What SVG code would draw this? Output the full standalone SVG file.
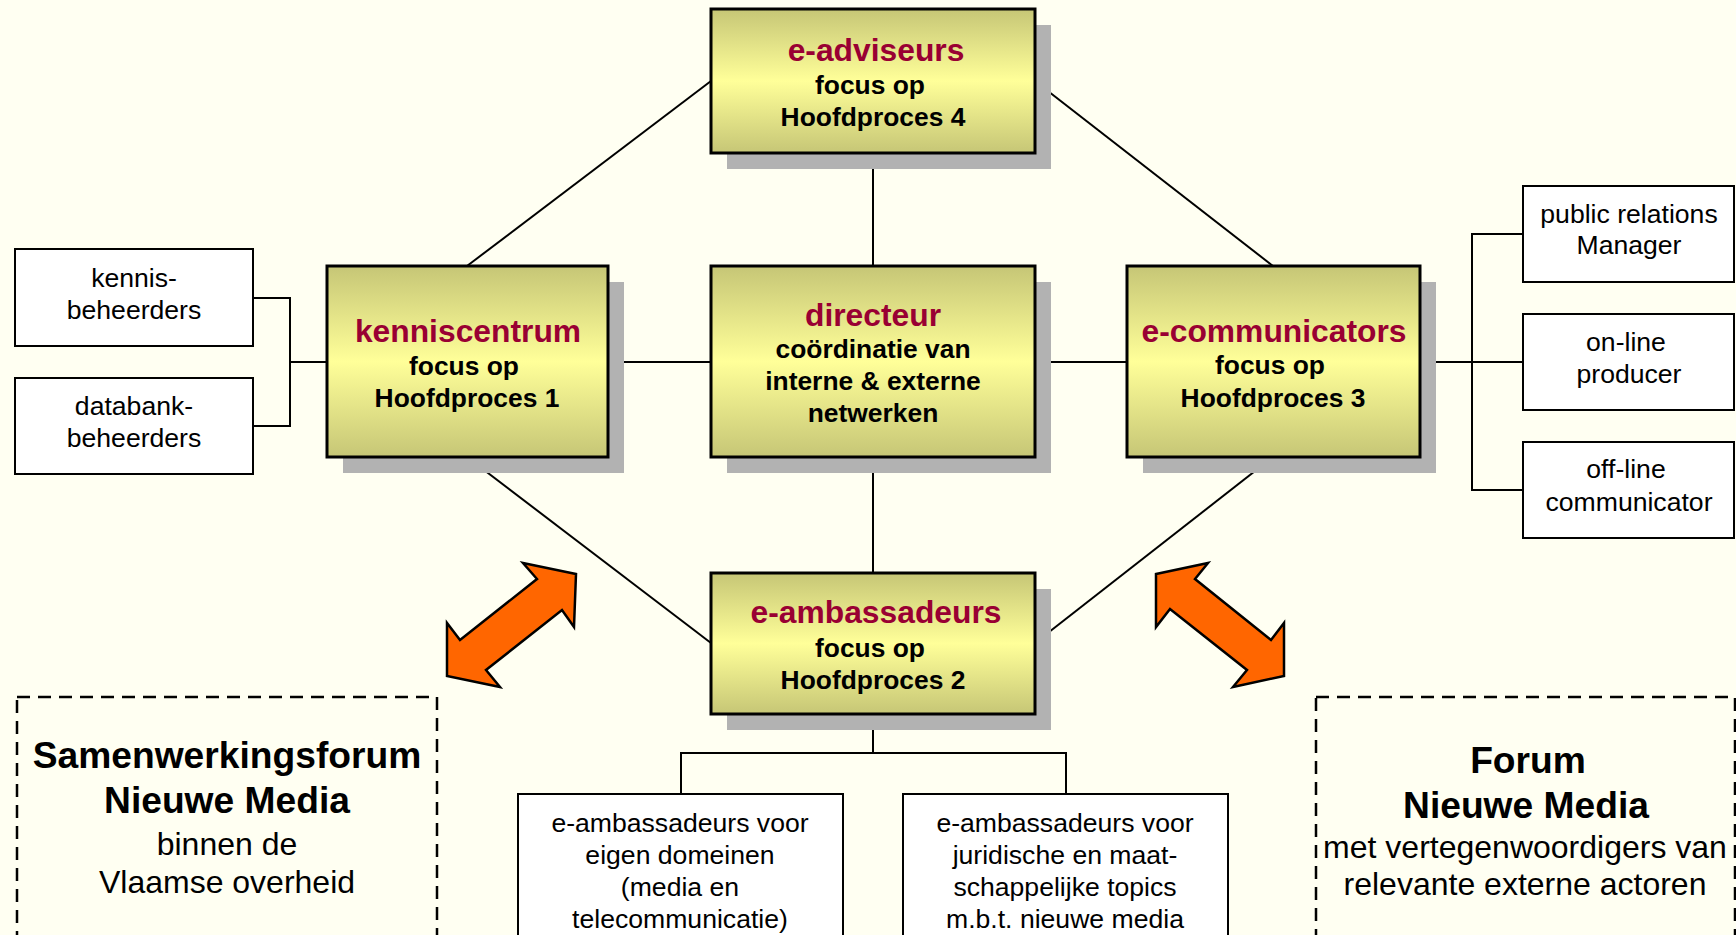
<svg xmlns="http://www.w3.org/2000/svg" width="1736" height="935" viewBox="0 0 1736 935">
<defs>
<linearGradient id="gold" x1="0" y1="0" x2="0" y2="1">
<stop offset="0" stop-color="#C6C676"/>
<stop offset="0.5" stop-color="#FFFF99"/>
<stop offset="1" stop-color="#C6C676"/>
</linearGradient>
<style>
.bg{fill:#FFFFF2}
.con{fill:none;stroke:#000;stroke-width:2}
.shadow{fill:#B2B2B2}
.main{fill:url(#gold);stroke:#000;stroke-width:3}
.small{fill:#fff;stroke:#000;stroke-width:2}
.dash{fill:none;stroke:#000;stroke-width:2.5;stroke-dasharray:13 8}
.arrow{fill:#FF6600;stroke:#000;stroke-width:2.5;stroke-linejoin:miter}
text{font-family:"Liberation Sans",Arial,sans-serif;text-anchor:middle;fill:#000}
.t{font-size:31.8px;font-weight:bold;fill:#990033}
.b{font-size:26.4px;font-weight:bold}
.r{font-size:26.6px}
.fb{font-size:37.2px;font-weight:bold}
.fr{font-size:32px}
</style>
</defs>
<rect class="bg" x="0" y="0" width="1736" height="935"/>
<g id="connectors">
<path class="con" d="M711,81 L467,266"/>
<path class="con" d="M1035,81 L1273,266"/>
<path class="con" d="M873,153 V266"/>
<path class="con" d="M608,362 H711"/>
<path class="con" d="M1035,362 H1127"/>
<path class="con" d="M873,457 V573"/>
<path class="con" d="M467,457 L711,643"/>
<path class="con" d="M1273,457 L1035,643"/>
<path class="con" d="M253,298 H290 V426 H253 M290,362 H327"/>
<path class="con" d="M1420,362 H1523 M1523,234 H1472 V490 H1523"/>
<path class="con" d="M873,714 V753 M681,795 V753 H1066 V795"/>
</g>
<g id="e-adviseurs">
<rect class="shadow" x="727" y="25" width="324" height="144"/>
<rect class="main" x="711" y="9" width="324" height="144"/>
<text class="t" x="876" y="61">e-adviseurs</text>
<text class="b" x="870" y="94">focus op</text>
<text class="b" x="873" y="126">Hoofdproces 4</text>
</g>
<g id="kenniscentrum">
<rect class="shadow" x="343" y="282" width="281" height="191"/>
<rect class="main" x="327" y="266" width="281" height="191"/>
<text class="t" x="468" y="342">kenniscentrum</text>
<text class="b" x="464" y="375">focus op</text>
<text class="b" x="467" y="407">Hoofdproces 1</text>
</g>
<g id="directeur">
<rect class="shadow" x="727" y="282" width="324" height="191"/>
<rect class="main" x="711" y="266" width="324" height="191"/>
<text class="t" x="873" y="326">directeur</text>
<text class="b" x="873" y="358">coördinatie van</text>
<text class="b" x="873" y="390">interne &amp; externe</text>
<text class="b" x="873" y="422">netwerken</text>
</g>
<g id="e-communicators">
<rect class="shadow" x="1143" y="282" width="293" height="191"/>
<rect class="main" x="1127" y="266" width="293" height="191"/>
<text class="t" x="1274" y="342">e-communicators</text>
<text class="b" x="1270" y="374">focus op</text>
<text class="b" x="1273" y="407">Hoofdproces 3</text>
</g>
<g id="e-ambassadeurs">
<rect class="shadow" x="727" y="589" width="324" height="141"/>
<rect class="main" x="711" y="573" width="324" height="141"/>
<text class="t" x="876" y="623">e-ambassadeurs</text>
<text class="b" x="870" y="657">focus op</text>
<text class="b" x="873" y="689">Hoofdproces 2</text>
</g>
<g id="kennisbeheerders">
<rect class="small" x="15" y="249" width="238" height="97"/>
<text class="r" x="134" y="287">kennis-</text>
<text class="r" x="134" y="319">beheerders</text>
</g>
<g id="databankbeheerders">
<rect class="small" x="15" y="378" width="238" height="96"/>
<text class="r" x="134" y="415">databank-</text>
<text class="r" x="134" y="447">beheerders</text>
</g>
<g id="pr-manager">
<rect class="small" x="1523" y="186" width="211" height="96"/>
<text class="r" x="1629" y="223">public relations</text>
<text class="r" x="1629" y="254">Manager</text>
</g>
<g id="online-producer">
<rect class="small" x="1523" y="314" width="211" height="96"/>
<text class="r" x="1626" y="351">on-line</text>
<text class="r" x="1629" y="383">producer</text>
</g>
<g id="offline-communicator">
<rect class="small" x="1523" y="442" width="211" height="96"/>
<text class="r" x="1626" y="478">off-line</text>
<text class="r" x="1629" y="511">communicator</text>
</g>
<g id="ea-domeinen">
<rect class="small" x="518" y="794" width="325" height="160"/>
<text class="r" x="680" y="832">e-ambassadeurs voor</text>
<text class="r" x="680" y="864">eigen domeinen</text>
<text class="r" x="680" y="896">(media en</text>
<text class="r" x="680" y="928">telecommunicatie)</text>
</g>
<g id="ea-juridisch">
<rect class="small" x="903" y="794" width="325" height="160"/>
<text class="r" x="1065" y="832">e-ambassadeurs voor</text>
<text class="r" x="1065" y="864">juridische en maat-</text>
<text class="r" x="1065" y="896">schappelijke topics</text>
<text class="r" x="1065" y="928">m.b.t. nieuwe media</text>
</g>
<g id="arrow-left">
<polygon class="arrow" points="576,574 523,563 537,579 460,640 447,623 447,676 500,687 486,670 562,610 574,627"/>
</g>
<g id="arrow-right">
<polygon class="arrow" points="1156,574 1208,563 1195,579 1271,640 1284,623 1284,676 1233,687 1247,670 1170,609 1156,627"/>
</g>
<g id="samenwerkingsforum">
<rect class="dash" x="17" y="697" width="420" height="260"/>
<text class="fb" x="227" y="768">Samenwerkingsforum</text>
<text class="fb" x="227" y="813">Nieuwe Media</text>
<text class="fr" x="227" y="855">binnen de</text>
<text class="fr" x="227" y="893">Vlaamse overheid</text>
</g>
<g id="forum-nieuwe-media">
<rect class="dash" x="1316" y="697" width="419" height="260"/>
<text class="fb" x="1528" y="773">Forum</text>
<text class="fb" x="1526" y="818">Nieuwe Media</text>
<text class="fr" x="1525" y="858">met vertegenwoordigers van</text>
<text class="fr" x="1525" y="895">relevante externe actoren</text>
</g>
</svg>
